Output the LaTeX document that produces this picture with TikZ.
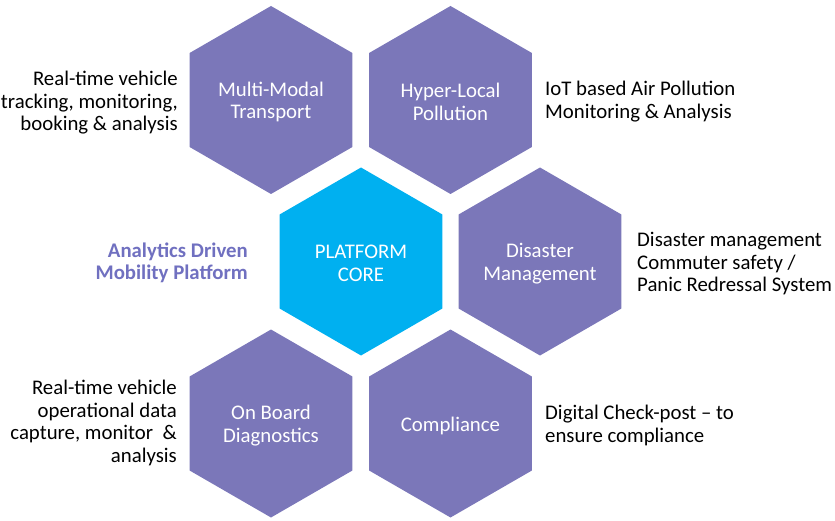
\documentclass[tikz,border=0pt]{standalone}
\usepackage{fontspec}
\setmainfont{Carlito}
\definecolor{hexpurple}{RGB}{123,119,185}
\definecolor{hexblue}{RGB}{0,176,240}
\definecolor{titlepurple}{RGB}{112,112,192}
\definecolor{sidetext}{RGB}{0,0,0}

\tikzset{
  hexfill/.style={fill=#1},
  hexlabel/.style={text=white, align=center, inner sep=0pt,
    font=\fontsize{20.8bp}{22.5bp}\selectfont},
  sidenote/.style={text=sidetext, inner sep=0pt,
    font=\fontsize{20.8bp}{22.5bp}\selectfont},
  leftnote/.style={sidenote, align=right, anchor=east},
  rightnote/.style={sidenote, align=left, anchor=west},
  titlenote/.style={text=titlepurple, inner sep=0pt, align=right, anchor=east,
    font=\fontsize{20.8bp}{22.5bp}\selectfont\bfseries},
}

% one pointy-topped hexagon of circumradius 94 around a centre
\newcommand{\hexcell}[2]{%
  \fill[hexfill=#2] (#1) +(90:94) -- +(150:94) -- +(210:94) -- +(270:94)
    -- +(330:94) -- +(30:94) -- cycle;}

\begin{document}
\begin{tikzpicture}[x=1bp,y=-1bp]
\useasboundingbox (0,0) rectangle (835,521);

% cell centres
\coordinate (cMM) at (271,100);
\coordinate (cHL) at (450.5,100);
\coordinate (cPC) at (361,261.5);
\coordinate (cDM) at (540,261.5);
\coordinate (cOB) at (271,423.5);
\coordinate (cCO) at (450.5,423.5);

\hexcell{cMM}{hexpurple}
\hexcell{cHL}{hexpurple}
\hexcell{cPC}{hexblue}
\hexcell{cDM}{hexpurple}
\hexcell{cOB}{hexpurple}
\hexcell{cCO}{hexpurple}

% labels inside the cells, set a little below the geometric centre
\node[hexlabel] (mm) at ([yshift=-2bp]cMM) {Multi-Modal\\Transport};
\node[hexlabel] (hl) at ([yshift=-2bp]cHL) {Hyper-Local\\Pollution};
\node[hexlabel] (pc) at ([yshift=-2bp]cPC) {PLATFORM\\CORE};
\node[hexlabel] (dm) at ([yshift=-2bp]cDM) {Disaster\\Management};
\node[hexlabel] (ob) at ([yshift=-2bp]cOB) {On Board\\Diagnostics};
\node[hexlabel] (co) at ([yshift=-2bp]cCO) {Compliance};

% descriptions beside the cells
\node[leftnote] (mmnote) at (178,103) {Real-time vehicle\\tracking, monitoring,\\booking \& analysis};
\node[rightnote] (hlnote) at (545,101.5) {IoT based Air Pollution\\Monitoring \& Analysis};
\node[titlenote] (title) at (248,263) {Analytics Driven\\Mobility Platform};
\node[rightnote] (dmnote) at (637,264) {Disaster management\\Commuter safety /\\Panic Redressal System};
\node[leftnote] (obnote) at (177,423) {Real-time vehicle\\operational data\\capture, monitor\ \ \&\\analysis};
\node[rightnote] (conote) at (545,425.5) {Digital Check-post -- to\\ensure compliance};
\end{tikzpicture}
\end{document}
